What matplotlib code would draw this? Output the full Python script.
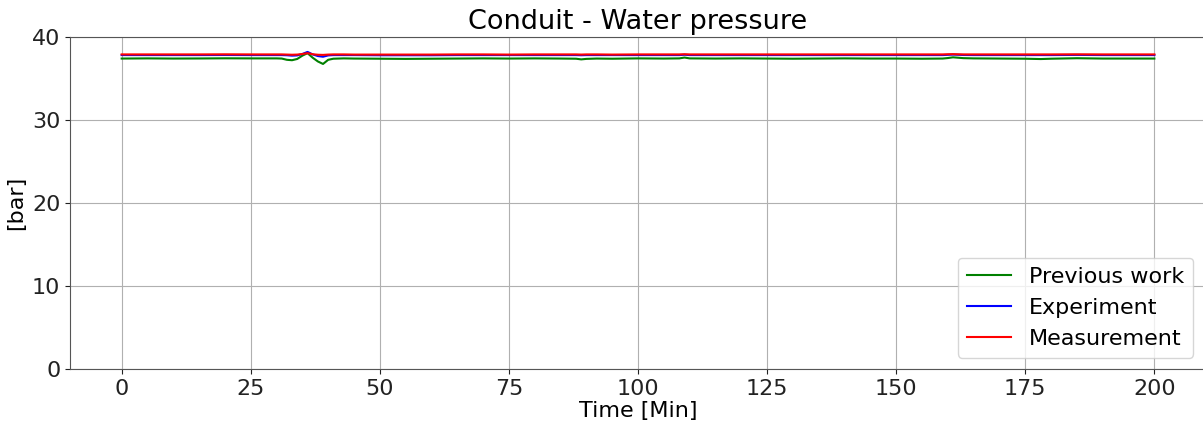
import matplotlib
matplotlib.use('Agg')
import matplotlib.pyplot as plt

# Datos (bar vs minutos)
time_min = [0, 5, 10, 15, 20, 25, 30, 31, 32, 33, 34, 35, 36, 37, 38, 39, 40, 41, 43, 45, 50,
            55, 60, 65, 70, 75, 80, 85, 88, 89, 90, 92, 95, 100, 105, 108, 109, 110, 115,
            120, 125, 130, 135, 140, 145, 150, 155, 159, 160, 161, 163, 165, 170, 175, 178,
            180, 185, 190, 195, 200]

previous_work = [37.40, 37.42, 37.40, 37.41, 37.43, 37.42, 37.42, 37.40, 37.25, 37.20, 37.35, 37.75,
                 38.05, 37.50, 37.05, 36.75, 37.25, 37.38, 37.42, 37.40, 37.38,
                 37.36, 37.38, 37.40, 37.42, 37.40, 37.42, 37.40, 37.38, 37.30, 37.36, 37.40,
                 37.38, 37.42, 37.40, 37.42, 37.52, 37.42, 37.40,
                 37.42, 37.40, 37.38, 37.40, 37.42, 37.40, 37.40, 37.38, 37.40, 37.46, 37.55,
                 37.45, 37.42, 37.40, 37.38, 37.34, 37.38, 37.44, 37.40, 37.40, 37.40]

experiment = [37.82, 37.82, 37.82, 37.82, 37.83, 37.82, 37.82, 37.82, 37.80, 37.75, 37.78, 37.95,
              38.20, 37.90, 37.70, 37.62, 37.78, 37.82, 37.82, 37.82, 37.80,
              37.80, 37.80, 37.82, 37.82, 37.82, 37.82, 37.82, 37.82, 37.80, 37.82, 37.82,
              37.82, 37.82, 37.82, 37.82, 37.86, 37.82, 37.82,
              37.82, 37.82, 37.82, 37.82, 37.82, 37.82, 37.82, 37.82, 37.82, 37.85, 37.88,
              37.83, 37.82, 37.82, 37.82, 37.82, 37.82, 37.84, 37.82, 37.82, 37.82]

measurement = [37.90, 37.90, 37.90, 37.90, 37.91, 37.90, 37.90, 37.90, 37.88, 37.86, 37.88, 37.95,
               38.05, 37.92, 37.86, 37.84, 37.88, 37.90, 37.90, 37.88, 37.88,
               37.88, 37.88, 37.90, 37.90, 37.88, 37.90, 37.90, 37.90, 37.88, 37.90, 37.90,
               37.88, 37.90, 37.90, 37.90, 37.92, 37.90, 37.90,
               37.90, 37.90, 37.90, 37.90, 37.90, 37.90, 37.90, 37.90, 37.90, 37.92, 37.93,
               37.90, 37.90, 37.90, 37.90, 37.90, 37.90, 37.91, 37.90, 37.90, 37.90]

x_ticks = [0, 25, 50, 75, 100, 125, 150, 175, 200]
y_ticks = [0, 10, 20, 30, 40]

fig = plt.figure(figsize=(12.03, 4.25), dpi=100)
ax = fig.add_axes([0.0582, 0.1318, 0.9443, 0.7812])

ax.plot(time_min, previous_work, color='green', linewidth=1.5, label='Previous work')
ax.plot(time_min, experiment, color='blue', linewidth=1.5, label='Experiment')
ax.plot(time_min, measurement, color='red', linewidth=1.5, label='Measurement')

ax.set_xlim(-10, 210)
ax.set_ylim(0, 40)
ax.set_xticks(x_ticks)
ax.set_yticks(y_ticks)
ax.tick_params(labelsize=16, colors='#222222')
ax.grid(True, color='#b0b0b0', linewidth=0.8)
for s in ax.spines.values():
    s.set_color('#555555')

ax.set_title('Conduit - Water pressure', fontsize=19.5)
ax.set_xlabel('Time [Min]', fontsize=16, labelpad=2)
ax.set_ylabel('[bar]', fontsize=16)
ax.legend(loc='lower right', fontsize=16, bbox_to_anchor=(0.9985, 0.0))

fig.savefig('out.png', dpi=100)
